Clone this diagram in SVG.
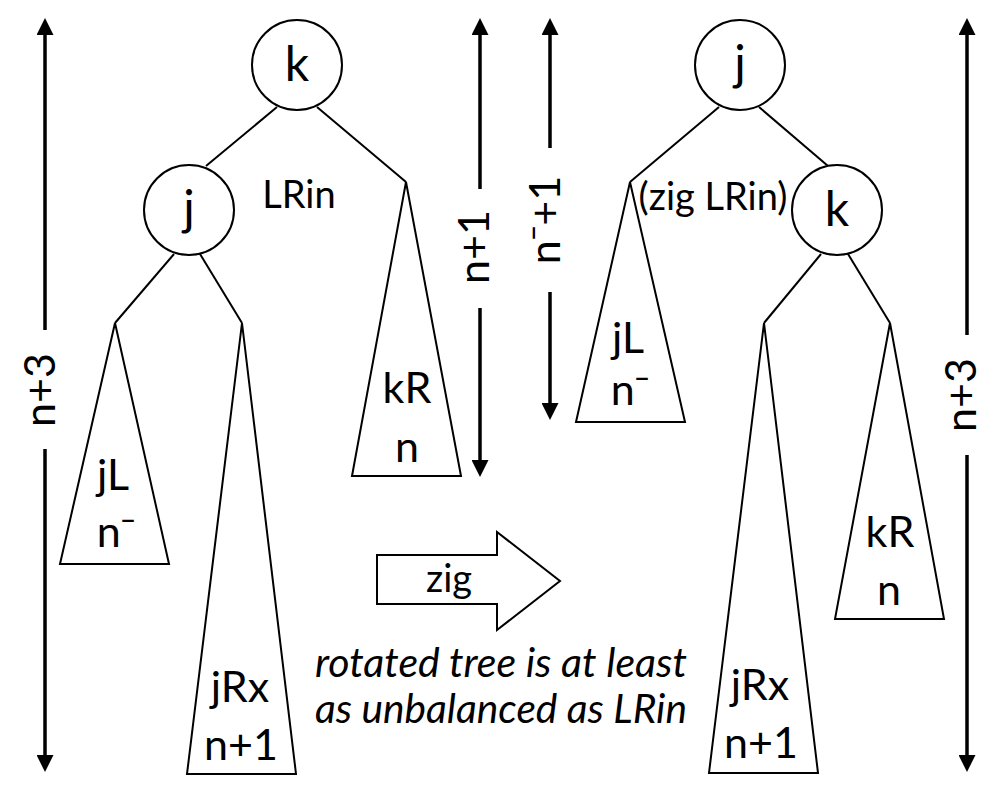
<svg xmlns="http://www.w3.org/2000/svg" width="997" height="790" viewBox="0 0 997 790">
<defs>
<marker id="ah" markerUnits="userSpaceOnUse" markerWidth="18" markerHeight="17" refX="6" refY="8.5" orient="auto">
<path d="M0,0 L17,8.5 L0,17 z" fill="#000"/>
</marker>
</defs>
<style>
.nd{fill:#fff;stroke:#000;stroke-width:2}
.ed{stroke:#000;stroke-width:2;fill:none}
.dim{stroke:#000;stroke-width:3.5;fill:none}
.t{font-family:Lato,"Open Sans","DejaVu Sans",sans-serif;fill:#000;text-anchor:middle}
.big{font-size:48px}
.sub{font-size:43px}
.lab{font-size:38px}
.sup{font-family:"Noto Sans","DejaVu Sans",sans-serif}
.it{font-family:Lato,"Open Sans","DejaVu Sans",sans-serif;font-style:italic;font-size:40px;fill:#000}
</style>
<rect width="997" height="790" fill="#fff"/>

<g id="connectors">
<line class="ed" x1="277" y1="107" x2="206" y2="166"/>
<line class="ed" x1="317" y1="107" x2="406" y2="182"/>
<line class="ed" x1="174" y1="254" x2="115" y2="323"/>
<line class="ed" x1="200" y1="254" x2="242" y2="323"/>
<line class="ed" x1="719" y1="107" x2="630" y2="182"/>
<line class="ed" x1="759" y1="107" x2="828" y2="166"/>
<line class="ed" x1="821" y1="254" x2="764" y2="323"/>
<line class="ed" x1="848" y1="254" x2="890" y2="323"/>
</g>

<g id="heights">
<line class="dim" x1="45" y1="330" x2="45" y2="29" marker-end="url(#ah)"/>
<line class="dim" x1="45" y1="449" x2="45" y2="761" marker-end="url(#ah)"/>
<text class="t sub" transform="translate(55,390) rotate(-90)">n+3</text>
<line class="dim" x1="480" y1="189" x2="480" y2="29" marker-end="url(#ah)"/>
<line class="dim" x1="480" y1="308" x2="480" y2="466" marker-end="url(#ah)"/>
<text class="t sub" transform="translate(489,247) rotate(-90)">n+1</text>
<line class="dim" x1="550" y1="148" x2="550" y2="29" marker-end="url(#ah)"/>
<line class="dim" x1="550" y1="292" x2="550" y2="409" marker-end="url(#ah)"/>
<text class="t sub" transform="translate(560,220) rotate(-90)">n<tspan class="sup">⁻</tspan>+1</text>
<line class="dim" x1="967" y1="335" x2="967" y2="29" marker-end="url(#ah)"/>
<line class="dim" x1="967" y1="455" x2="967" y2="761" marker-end="url(#ah)"/>
<text class="t sub" transform="translate(976,395) rotate(-90)">n+3</text>
</g>

<g id="L-k"><circle class="nd" cx="297" cy="65" r="45"/><text class="t big" x="297" y="81">k</text></g>
<g id="L-j"><circle class="nd" cx="189" cy="210" r="45"/><text class="t big" x="189" y="225">j</text></g>
<g id="L-kR"><polygon class="nd" points="406,182 461,476 352,476"/><text class="t sub" x="407" y="403">kR</text><text class="t sub" x="407" y="462">n</text></g>
<g id="L-jL"><polygon class="nd" points="115,323 169,564 60,564"/><text class="t sub" x="113" y="490">jL</text><text class="t sub" x="116" y="547">n<tspan class="sup">⁻</tspan></text></g>
<g id="L-jRx"><polygon class="nd" points="242,323 296,774 187,774"/><text class="t sub" x="240" y="702">jRx</text><text class="t sub" x="241" y="760">n+1</text></g>
<text id="lrin" class="t lab" x="299" y="208">LRin</text>

<g id="zig"><polygon class="nd" points="377,555 497,555 497,532 560,581 497,630 497,604 377,604"/><text class="t lab" x="449" y="592">zig</text></g>

<g id="R-j"><circle class="nd" cx="740" cy="65" r="45"/><text class="t big" x="740" y="80">j</text></g>
<g id="R-k"><circle class="nd" cx="837" cy="210" r="45"/><text class="t big" x="837" y="226">k</text></g>
<g id="R-jL"><polygon class="nd" points="630,182 685,422 576,422"/><text class="t sub" x="628" y="353">jL</text><text class="t sub" x="630" y="405">n<tspan class="sup">⁻</tspan></text></g>
<g id="R-jRx"><polygon class="nd" points="764,323 818,773 709,773"/><text class="t sub" x="760" y="700">jRx</text><text class="t sub" x="761" y="758">n+1</text></g>
<g id="R-kR"><polygon class="nd" points="890,323 944,619 835,619"/><text class="t sub" x="890" y="547">kR</text><text class="t sub" x="889" y="605">n</text></g>
<text id="ziglrin" class="t lab" x="713" y="210">(zig LRin)</text>

<g id="note">
<text class="it" x="315" y="677" textLength="372" lengthAdjust="spacingAndGlyphs">rotated tree is at least</text>
<text class="it" x="315" y="723" textLength="372" lengthAdjust="spacingAndGlyphs">as unbalanced as LRin</text>
</g>
</svg>
